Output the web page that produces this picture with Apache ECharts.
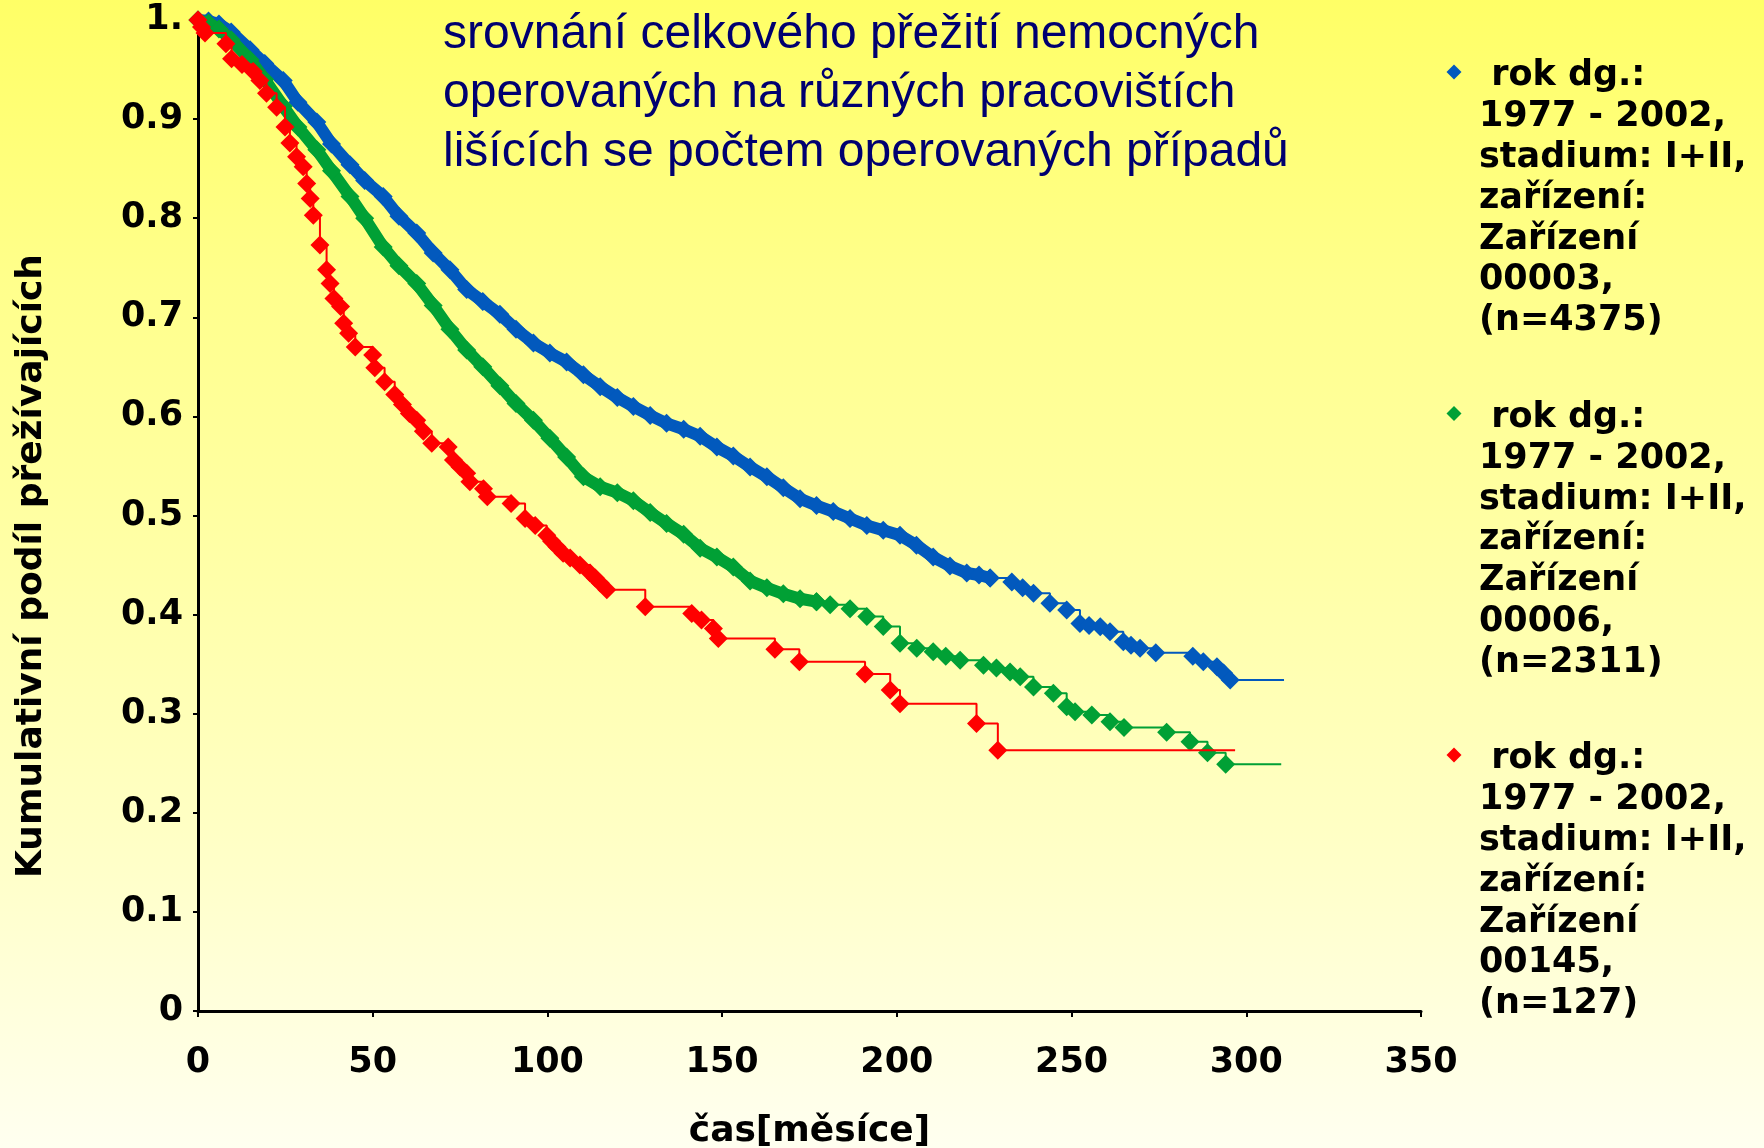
<!DOCTYPE html>
<html><head><meta charset="utf-8">
<script src="https://cdn.jsdelivr.net/npm/echarts@6/dist/echarts.min.js"></script>
<style>
html,body{margin:0;padding:0;width:1764px;height:1148px;overflow:hidden;
background:linear-gradient(to bottom,#ffff66 0%,#ffff8c 25%,#ffffa8 50%,#ffffc8 75%,#fffff0 100%);}
#c{width:1764px;height:1148px;}
</style>
</head><body><div id="c"></div>
<script>
// ---- data (months, cumulative survival) ----
const xTickLabels = ['0','50','100','150','200','250','300','350'];
const yTickLabels = ['0','0.1','0.2','0.3','0.4','0.5','0.6','0.7','0.8','0.9','1.'];
const titleLines = ['srovnání celkového přežití nemocných','operovaných na různých pracovištích','lišících se počtem operovaných případů'];
const xAxisTitle = 'čas[měsíce]';
const yAxisTitle = 'Kumulativní podíl přežívajících';
const legendLabels = [
  ' rok dg.:\n1977 - 2002,\nstadium: I+II,\nzařízení:\nZařízení\n00003,\n(n=4375)',
  ' rok dg.:\n1977 - 2002,\nstadium: I+II,\nzařízení:\nZařízení\n00006,\n(n=2311)',
  ' rok dg.:\n1977 - 2002,\nstadium: I+II,\nzařízení:\nZařízení\n00145,\n(n=127)'
];

const blueData = [[0,1.0],[3,0.999],[6,0.996],[9.5,0.988],[14.9,0.970],[19.1,0.956],[24.4,0.939],[28.6,0.917],[34,0.897],[38.2,0.875],[43.5,0.854],[47.7,0.838],[53,0.822],[57.5,0.802],[62.6,0.785],[67.3,0.765],[72.1,0.748],[76.9,0.728],[81.5,0.716],[86.4,0.703],[91,0.688],[96,0.674],[100.7,0.664],[105.5,0.655],[110.3,0.642],[115.1,0.630],[120,0.619],[124.6,0.610],[129.4,0.601],[134.1,0.593],[139,0.587],[143.7,0.580],[148.5,0.569],[153.2,0.560],[158,0.549],[162.8,0.539],[167.5,0.528],[172.3,0.517],[177,0.510],[181.8,0.504],[186.6,0.497],[191.4,0.490],[196.1,0.485],[200.9,0.480],[205.6,0.470],[210.4,0.458],[215.2,0.449],[220,0.442],[223.5,0.440],[226.7,0.437],[232.9,0.433],[236,0.427],[239.1,0.4215],[243.8,0.4114],[248.6,0.4046],[252.4,0.391],[255,0.389],[258.2,0.3878],[261,0.3827],[264.8,0.3727],[267,0.369],[269.6,0.366],[274.1,0.3616],[284.7,0.358],[287.7,0.3525],[291.6,0.3474],[293.5,0.341],[295.4,0.334],[310.8,0.334]];
const greenData = [[0,1.0],[3,0.997],[6,0.991],[9.5,0.980],[14.9,0.960],[19.1,0.940],[24.4,0.913],[28.6,0.892],[34,0.869],[38.2,0.848],[43.5,0.822],[47.7,0.800],[53,0.771],[57.5,0.752],[62.6,0.734],[67.3,0.712],[72.1,0.688],[76.9,0.667],[81.5,0.650],[86.4,0.631],[91,0.613],[96,0.596],[100.7,0.578],[105.5,0.559],[110.3,0.539],[115.1,0.529],[120,0.523],[124.6,0.515],[129.4,0.503],[134.1,0.492],[139,0.481],[143.7,0.467],[148.5,0.458],[153.2,0.448],[158,0.434],[162.8,0.427],[167.5,0.421],[172.3,0.416],[177,0.413],[180.9,0.410],[186.6,0.406],[191.4,0.398],[196.1,0.388],[200.9,0.371],[205.7,0.366],[210.4,0.3626],[214,0.358],[218.1,0.354],[224.8,0.349],[228.5,0.346],[232.4,0.342],[235.3,0.3374],[239.1,0.327],[244.8,0.3206],[248.6,0.307],[251,0.302],[255.8,0.2987],[261,0.292],[265,0.286],[277.2,0.2812],[283.9,0.2718],[288.9,0.2607],[294.1,0.249],[310,0.249]];
const redData = [[0,1.0],[1,0.993],[2,0.987],[8,0.976],[9.6,0.961],[12.6,0.955],[15.8,0.948],[17.7,0.939],[19.6,0.926],[22.5,0.912],[24.9,0.892],[26.3,0.876],[28.2,0.862],[30.1,0.852],[31.1,0.835],[32.1,0.820],[33,0.803],[34.9,0.773],[36.8,0.748],[37.8,0.734],[38.9,0.719],[40.8,0.711],[41.7,0.694],[43.1,0.684],[45,0.670],[50,0.662],[50.6,0.649],[53.4,0.635],[56.3,0.622],[58.5,0.612],[60.5,0.603],[62.6,0.596],[64.5,0.585],[66.9,0.573],[71.6,0.569],[73.1,0.556],[75,0.549],[76.9,0.5426],[77.8,0.534],[81.7,0.527],[82.8,0.519],[89.6,0.512],[93.6,0.497],[96.5,0.490],[99.8,0.480],[101.2,0.474],[102.7,0.4685],[104.5,0.462],[106.5,0.457],[109.3,0.450],[112.2,0.442],[113.7,0.437],[115.1,0.432],[117,0.425],[128,0.408],[141.3,0.401],[144.1,0.3945],[147.5,0.386],[148.9,0.376],[165.1,0.365],[172.1,0.3525],[190.9,0.340],[198.1,0.324],[200.9,0.310],[222.8,0.290],[228.9,0.263],[296.8,0.263]];
const blueDenseEnd = 226.7;   // months where the blue marks stop overlapping
const greenDenseEnd = 177;    // months where the green marks stop overlapping

// ---- styles ----
const BLUE = '#0259bd', GREEN = '#01a035', RED = '#ff0000';
const FONT = '"DejaVu Sans", Verdana, sans-serif';
const SYM = 19;

function withEnd(data){
  return data.map((p,i)=> i===data.length-1 ? {value:p, symbol:'none'} : p);
}
function dense(data, end, color, z){
  return {type:'line', data:data.filter(p=>p[0]<=end), symbol:'diamond', symbolSize:SYM,
    itemStyle:{color}, lineStyle:{color, width:12}, z, silent:true};
}
function tail(data, start, color, z){
  return {type:'line', step:'end', data:withEnd(data.filter(p=>p[0]>=start)), symbol:'diamond', symbolSize:SYM,
    itemStyle:{color}, lineStyle:{color, width:2}, z, silent:true};
}

const chart = echarts.init(document.getElementById('c'), null, {renderer:'canvas'});
const colors = [BLUE, GREEN, RED];
const graphics = [];
graphics.push({type:'text', left:443, top:5, style:{text:titleLines.join('\n'), font:'48px "Liberation Sans", Arial, sans-serif', lineHeight:59, fill:'#000070'}});
graphics.push({type:'text', x:32, y:566, rotation:Math.PI/2, style:{text:yAxisTitle, font:'bold 36px ' + FONT, fill:'#000', align:'center', verticalAlign:'middle'}});
legendLabels.forEach((t,i)=>{
  const top = 56 + 341.5*i;
  graphics.push({type:'polygon', x:1454, y:top+16, shape:{points:[[0,-7.5],[7.5,0],[0,7.5],[-7.5,0]]}, style:{fill:colors[i]}});
  graphics.push({type:'text', left:1479, top:top, style:{text:t, font:'bold 35px ' + FONT, lineHeight:40.8, fill:'#000'}});
});

chart.setOption({
  animation:false,
  backgroundColor:'transparent',
  grid:{left:198, right:343, top:20, bottom:137, containLabel:false, outerBoundsMode:'none'},
  xAxis:{type:'value', min:0, max:350, interval:50,
    name:xAxisTitle, nameLocation:'middle', nameGap:103,
    nameTextStyle:{fontFamily:FONT, fontWeight:'bold', fontSize:36, color:'#000'},
    axisLine:{show:true, onZero:false, lineStyle:{color:'#000', width:3}},
    axisTick:{show:true, inside:false, length:6, lineStyle:{color:'#000', width:2}},
    axisLabel:{margin:34, fontFamily:FONT, fontWeight:'bold', fontSize:35, color:'#000',
      formatter:(v)=> xTickLabels[Math.round(v/50)] ?? ''},
    splitLine:{show:false}},
  yAxis:{type:'value', min:0, max:1, interval:0.1,
    axisLine:{show:true, lineStyle:{color:'#000', width:3}},
    axisTick:{show:true, inside:false, length:5, lineStyle:{color:'#000', width:2}},
    axisLabel:{margin:15, fontFamily:FONT, fontWeight:'bold', fontSize:35, color:'#000',
      formatter:(v)=> yTickLabels[Math.round(v*10)] ?? ''},
    splitLine:{show:false}},
  graphic:graphics,
  series:[
    dense(blueData, blueDenseEnd, BLUE, 2),
    tail(blueData, blueDenseEnd, BLUE, 3),
    dense(greenData, greenDenseEnd, GREEN, 4),
    tail(greenData, greenDenseEnd, GREEN, 5),
    tail(redData, 0, RED, 6)
  ]
});
</script></body></html>
